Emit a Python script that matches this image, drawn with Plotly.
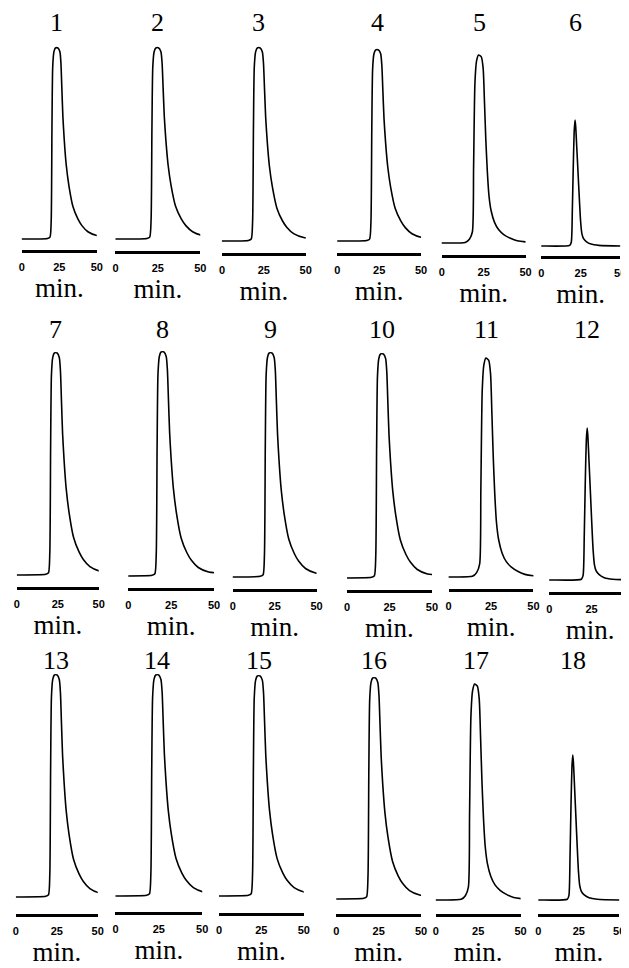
import plotly.graph_objects as go

# ---------------- data ----------------
panel_labels = ["1", "2", "3", "4", "5", "6",
                "7", "8", "9", "10", "11", "12",
                "13", "14", "15", "16", "17", "18"]
time_ticks = [0, 25, 50]
time_tick_text = ["0", "25", "50"]
axis_unit = "min."

# peak shapes (time in min, signal normalised 0 = baseline, 1 = top)
broad_t = [-5, 0, 17, 18.7, 19.5, 20, 20.5, 21.3, 22.3, 24, 25.3, 26, 26.6, 27.3, 28.2,
           29.5, 31.3, 34, 37.3, 40, 44, 50, 55]
broad_n = [0, 0, 0.003, 0.01, 0.1, 0.58, 0.9, 0.98, 1.0, 1.0, 0.98, 0.92, 0.79, 0.64, 0.52,
           0.39, 0.28, 0.17, 0.105, 0.07, 0.038, 0.018, 0.014]
medium_t = [-5, 0, 14, 16.5, 18.3, 19, 19.8, 20.8, 22, 23.6, 24.7, 25.5, 26.3, 27.2, 28.2,
            29.5, 31.5, 34, 37, 41, 45, 50, 55]
medium_n = [0, 0, 0.003, 0.02, 0.06, 0.4, 0.85, 0.97, 1.0, 0.99, 0.93, 0.75, 0.55, 0.38, 0.25,
            0.17, 0.11, 0.07, 0.045, 0.025, 0.012, 0.006, 0.004]
narrow_t = [-5, 0, 17.5, 18.5, 19.2, 19.8, 20.4, 20.9, 21.3, 22, 22.8, 23.6, 24.4, 25.2, 26.2,
            28, 31, 36, 50, 55]
narrow_n = [0, 0, 0.005, 0.03, 0.3, 0.65, 0.92, 1.0, 0.95, 0.78, 0.58, 0.38, 0.2, 0.1, 0.06,
            0.035, 0.015, 0.005, 0, 0]
template_centre = {"broad": 23.2, "medium": 22.6, "narrow": 20.9}

peak_type = ["broad", "broad", "broad", "broad", "medium", "narrow",
             "broad", "broad", "broad", "broad", "medium", "narrow",
             "broad", "broad", "broad", "broad", "medium", "narrow"]
retention_min = [23.3, 24.7, 22.0, 23.8, 22.6, 21.4,
                 23.8, 20.0, 22.6, 20.6, 22.6, 22.4,
                 24.4, 24.1, 23.5, 22.4, 23.5, 21.3]
baseline_level = [5.5, 6, 6, 6, 6, 5,
                  6, 6, 6, 6, 6, 6,
                  8.5, 8, 8.5, 7.5, 7, 7]
peak_height = [101, 101.5, 102.5, 101.5, 100, 68,
               117, 118, 118, 118, 115.5, 82,
               119.5, 118.5, 118.5, 118, 115, 79.5]

# ---------------- layout (pixels of the 629 x 968 page) ----------------
W, H = 629, 968
axis_left_px = [11, 106, 214, 331, 437, 538,
                6, 119, 225, 341, 444, 546,
                5, 106, 211, 330, 431, 535]
axis_right_px = [87, 192, 299, 416, 522, 618,
                 89, 206, 310, 427, 530, 632,
                 88, 194, 297, 416, 517, 617]
axis_line_px = [242, 243, 245, 245, 247, 248,
                579, 580, 581, 582, 581, 584,
                906, 904, 905, 906, 906, 906]
number_row_px = [15, 322, 652]
px_per_unit = 2.0

shapes_by_type = {"broad": (broad_t, broad_n),
                  "medium": (medium_t, medium_n),
                  "narrow": (narrow_t, narrow_n)}

fig = go.Figure()
annotations = []
for i in range(18):
    k = "" if i == 0 else str(i + 1)
    tt, nn = shapes_by_type[peak_type[i]]
    shift = retention_min[i] - template_centre[peak_type[i]]
    xs = [t + shift for t in tt]
    ys = [baseline_level[i] + n * (peak_height[i] - baseline_level[i]) for n in nn]
    fig.add_trace(go.Scatter(x=xs, y=ys, mode="lines", xaxis="x" + k, yaxis="y" + k,
                             line=dict(color="black", width=1.6, shape="spline", smoothing=0.6),
                             hoverinfo="skip", showlegend=False))
    L, R = axis_left_px[i], axis_right_px[i]
    if R > W:
        x_dom = [L / W, 1.0]
        x_rng = [0, 50 * (W - L) / (R - L)]
    else:
        x_dom = [L / W, R / W]
        x_rng = [0, 50]
    top_unit = min(128, (axis_line_px[i] - 2) / px_per_unit)
    bottom = 1 - axis_line_px[i] / H
    top = 1 - (axis_line_px[i] - top_unit * px_per_unit) / H
    fig.layout["xaxis" + k] = dict(
        domain=x_dom, range=x_rng, anchor="y" + k,
        showline=True, linewidth=3, linecolor="black", mirror=False,
        showgrid=False, zeroline=False, ticks="",
        tickmode="array", tickvals=time_ticks, ticktext=time_tick_text,
        tickfont=dict(family="Liberation Sans Narrow, Liberation Sans, Arial", size=11,
                      color="black", weight="bold"),
        ticklabelstandoff=5,
        title=dict(text=axis_unit, standoff=0,
                   font=dict(family="Liberation Serif, Times New Roman, serif", size=27,
                             color="black")),
        fixedrange=True)
    fig.layout["yaxis" + k] = dict(
        domain=[bottom, top], range=[0, top_unit], anchor="x" + k,
        visible=False, showgrid=False, zeroline=False, fixedrange=True)
    annotations.append(dict(
        text=panel_labels[i], xref="x" + k, x=retention_min[i],
        yref="paper", y=1 - number_row_px[i // 6] / H, yanchor="middle", xanchor="center",
        showarrow=False,
        font=dict(family="Liberation Serif, Times New Roman, serif", size=26, color="black")))

fig.update_layout(width=W, height=H, margin=dict(l=0, r=0, t=0, b=0),
                  paper_bgcolor="white", plot_bgcolor="white",
                  annotations=annotations, showlegend=False)
fig.write_html("out.html")
